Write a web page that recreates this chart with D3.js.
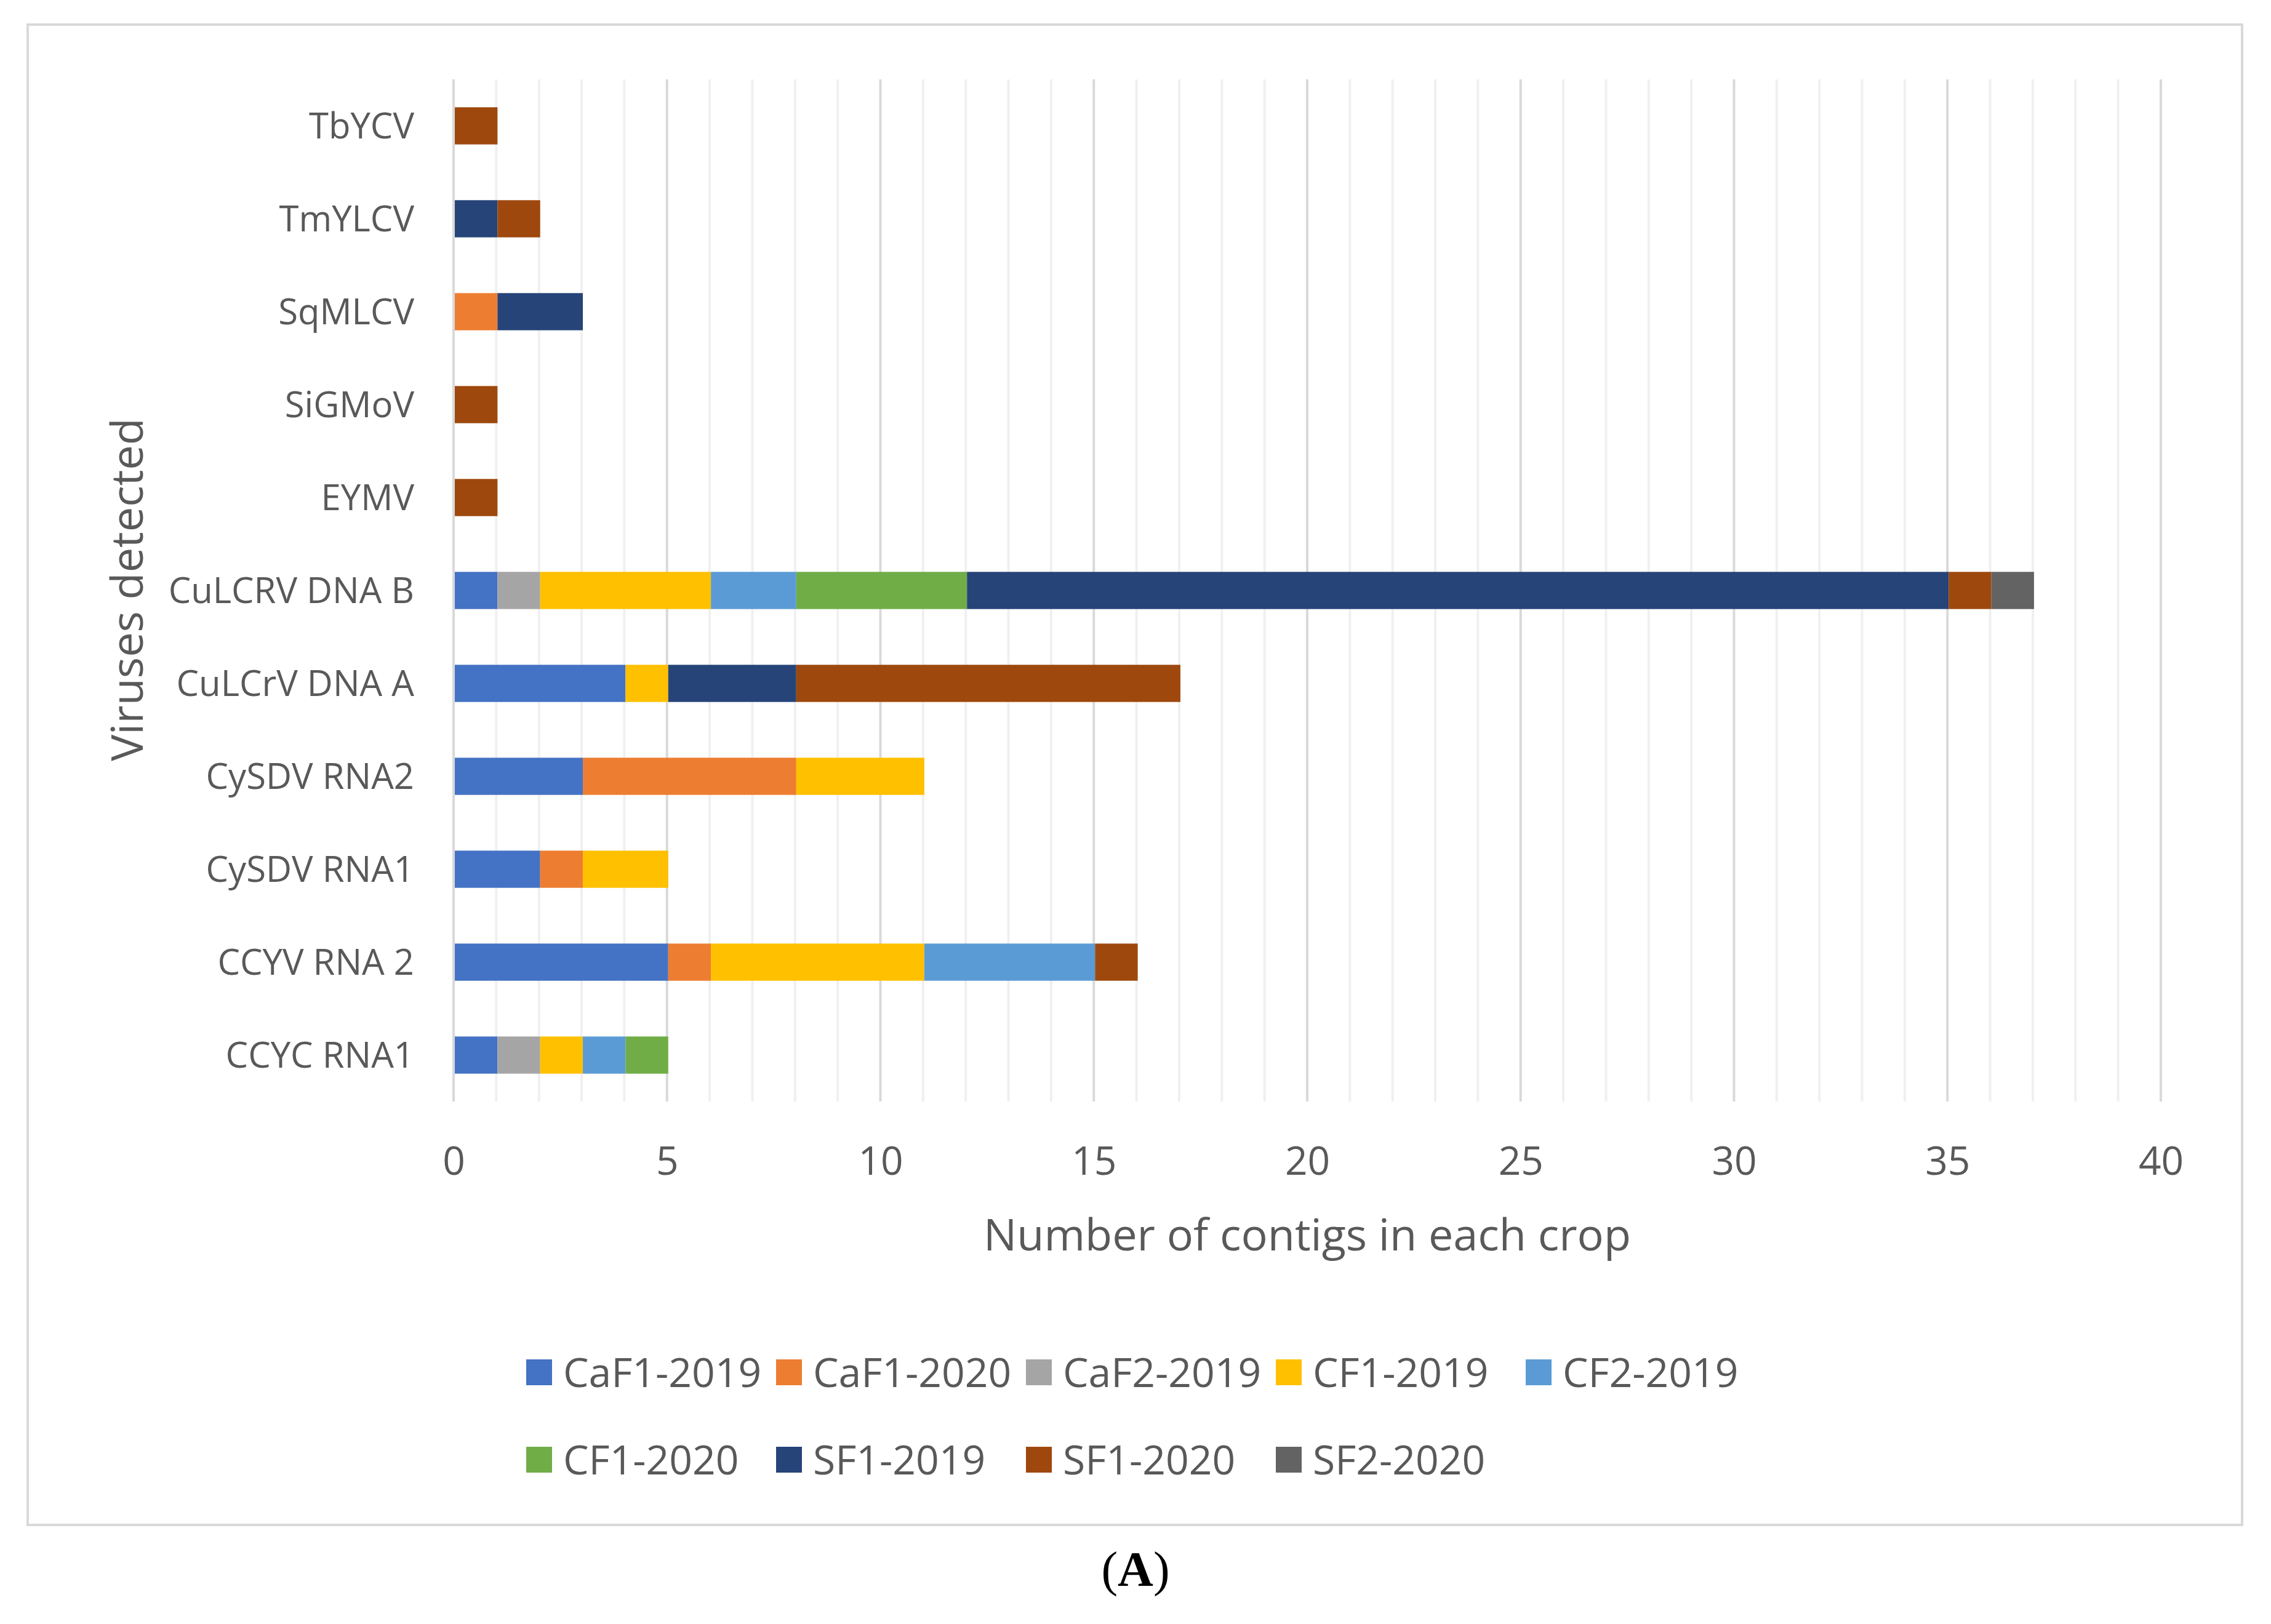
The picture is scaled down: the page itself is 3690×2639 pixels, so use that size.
<!DOCTYPE html>
<html>
<head>
<meta charset="utf-8">
<script src="https://cdn.jsdelivr.net/npm/d3@7/dist/d3.min.js"></script>
<style>
  body { margin: 0; background: #fff; }
  text { font-family: "Open Sans", sans-serif; fill: #595959; }
</style>
</head>
<body>
<div id="chart"></div>
<script>
var width = 3690;
var height = 2639;

// data
var viruses = ["TbYCV", "TmYLCV", "SqMLCV", "SiGMoV", "EYMV", "CuLCRV DNA B",
               "CuLCrV DNA A", "CySDV RNA2", "CySDV RNA1", "CCYV RNA 2", "CCYC RNA1"];
var series = ["CaF1-2019", "CaF1-2020", "CaF2-2019", "CF1-2019", "CF2-2019",
              "CF1-2020", "SF1-2019", "SF1-2020", "SF2-2020"];
var colors = ["#4472C4", "#ED7D31", "#A5A5A5", "#FFC000", "#5B9BD5",
              "#70AD47", "#264478", "#9E480E", "#636363"];
// one array per series, same order as viruses
var caf1_2019 = [0, 0, 0, 0, 0, 1, 4, 3, 2, 5, 1];
var caf1_2020 = [0, 0, 1, 0, 0, 0, 0, 5, 1, 1, 0];
var caf2_2019 = [0, 0, 0, 0, 0, 1, 0, 0, 0, 0, 1];
var cf1_2019  = [0, 0, 0, 0, 0, 4, 1, 3, 2, 5, 1];
var cf2_2019  = [0, 0, 0, 0, 0, 2, 0, 0, 0, 4, 1];
var cf1_2020  = [0, 0, 0, 0, 0, 4, 0, 0, 0, 0, 1];
var sf1_2019  = [0, 1, 2, 0, 0, 23, 3, 0, 0, 0, 0];
var sf1_2020  = [1, 1, 0, 1, 1, 1, 9, 0, 0, 1, 0];
var sf2_2020  = [0, 0, 0, 0, 0, 1, 0, 0, 0, 0, 0];
var xTicks = [0, 5, 10, 15, 20, 25, 30, 35, 40];

var values = [caf1_2019, caf1_2020, caf2_2019, cf1_2019, cf2_2019,
              cf1_2020, sf1_2019, sf1_2020, sf2_2020];
var table = viruses.map(function(v, i) {
  var row = { virus: v };
  series.forEach(function(s, j) { row[s] = values[j][i]; });
  return row;
});

var svg = d3.select("#chart").append("svg")
    .attr("width", width)
    .attr("height", height);

// chart border
svg.append("rect")
    .attr("x", 45).attr("y", 40)
    .attr("width", 3598).attr("height", 2438)
    .attr("fill", "none")
    .attr("stroke", "#d9d9d9")
    .attr("stroke-width", 4);

var x = d3.scaleLinear().domain([0, 40]).range([737, 3511]);
var y = d3.scaleBand().domain(viruses).range([129, 1790])
    .paddingInner(0.6).paddingOuter(0.3);

// gridlines: minor every 1, major every 5
var minor = d3.range(1, 40).filter(function(d) { return d % 5 != 0; });
svg.append("g").selectAll("line").data(minor).enter().append("line")
    .attr("x1", d => x(d)).attr("x2", d => x(d))
    .attr("y1", 129).attr("y2", 1790)
    .attr("stroke", "#f0f0f0")
    .attr("stroke-width", 4);
svg.append("g").selectAll("line").data(xTicks).enter().append("line")
    .attr("x1", d => x(d)).attr("x2", d => x(d))
    .attr("y1", 129).attr("y2", 1790)
    .attr("stroke", "#d9d9d9")
    .attr("stroke-width", 4);

// stacked bars
var stack = d3.stack().keys(series)(table);
svg.append("g").selectAll("g").data(stack).enter().append("g")
    .attr("fill", (d, i) => colors[i])
  .selectAll("rect").data(d => d).enter().append("rect")
    .attr("x", d => x(d[0]) + 2)
    .attr("y", d => y(d.data.virus))
    .attr("width", d => Math.max(0, x(d[1]) - x(d[0])))
    .attr("height", y.bandwidth())
    .attr("display", d => d[1] - d[0] > 0 ? null : "none");

// x axis
var xAxis = svg.append("g")
    .attr("transform", "translate(0,1790)")
    .call(d3.axisBottom(x).tickValues(xTicks).tickSize(0).tickPadding(0));
xAxis.select(".domain").remove();
xAxis.selectAll("text")
    .attr("dy", null)
    .attr("y", 119)
    .style("font-size", "64px")
    .style("font-family", "'Open Sans', sans-serif")
    .attr("fill", "#595959");

// y axis
var yAxis = svg.append("g")
    .attr("transform", "translate(673,0)")
    .call(d3.axisLeft(y).tickSize(0).tickPadding(0));
yAxis.select(".domain").remove();
yAxis.selectAll("text")
    .attr("dy", "0.35em")
    .style("font-size", "58px")
    .style("font-family", "'Open Sans', sans-serif")
    .attr("fill", "#595959");

// axis titles
svg.append("text")
    .text("Number of contigs in each crop")
    .attr("x", 2124).attr("y", 2032)
    .attr("text-anchor", "middle")
    .style("font-size", "72px");
svg.append("text")
    .text("Viruses detected")
    .attr("transform", "translate(232,958) rotate(-90)")
    .attr("text-anchor", "middle")
    .style("font-size", "72px");

// legend
var legendRows = [[0, 1, 2, 3, 4], [5, 6, 7, 8]];
var legendY = [2230, 2372];
legendRows.forEach(function(row, r) {
  var g = svg.append("g").selectAll("g").data(row).enter().append("g")
      .attr("transform", (d, i) => "translate(" + (855 + i * 406) + "," + legendY[r] + ")");
  g.append("rect")
      .attr("x", 0).attr("y", -21)
      .attr("width", 42).attr("height", 42)
      .attr("fill", d => colors[d]);
  g.append("text")
      .text(d => series[d])
      .attr("x", 60).attr("dy", "0.36em")
      .style("font-size", "66px");
});

// panel label
var lab = svg.append("text")
    .attr("x", 1845).attr("y", 2577)
    .attr("text-anchor", "middle")
    .style("font-family", "'Liberation Serif', serif")
    .style("font-size", "80px")
    .style("fill", "#000");
lab.append("tspan").text("(");
lab.append("tspan").text("A").style("font-weight", "bold");
lab.append("tspan").text(")");
</script>
</body>
</html>
